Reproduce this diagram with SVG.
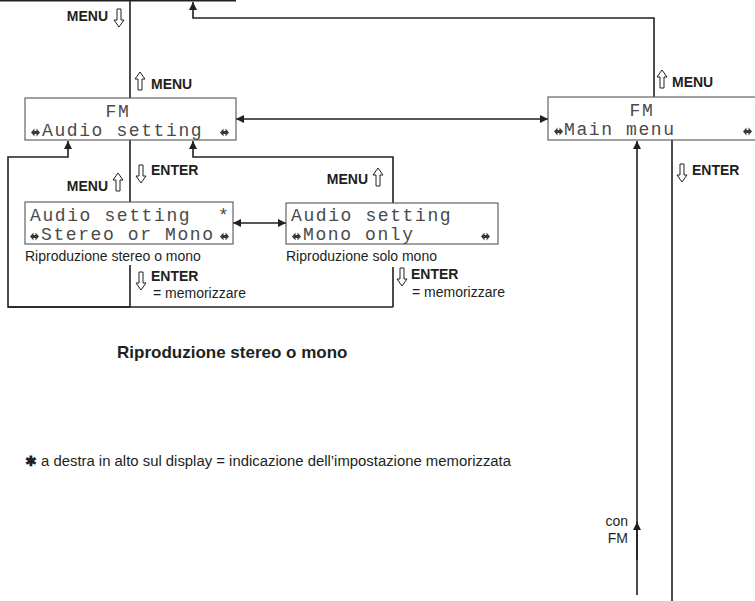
<svg xmlns="http://www.w3.org/2000/svg" width="755" height="601" viewBox="0 0 755 601">
<style>
.ln{fill:none;stroke:#231f20;stroke-width:1.6}
.box{fill:#fff;stroke:#555;stroke-width:1.1}
.lcd{font-family:"Liberation Mono","DejaVu Sans Mono",monospace;font-size:18px;letter-spacing:1.6px;fill:#4a4a4a}
.lbl{font-family:"Liberation Sans",Arial,sans-serif;font-size:14px;font-weight:bold;fill:#231f20}
.cap{font-family:"Liberation Sans",Arial,sans-serif;font-size:14px;fill:#231f20}
.ttl{font-family:"Liberation Sans",Arial,sans-serif;font-size:17px;font-weight:bold;fill:#231f20}
.ho{fill:#fff;stroke:#231f20;stroke-width:1}
.ic{fill:#3a3a3a}
</style>
<defs>
<marker id="ah" viewBox="0 0 10 10" refX="10" refY="5" markerWidth="8" markerHeight="9" markerUnits="userSpaceOnUse" orient="auto-start-reverse">
<path d="M0,0 L10,5 L0,10 Z" fill="#231f20"/>
</marker>
<path id="dn" d="M3,0 H7 V11 H10 L5,18 L0,11 H3 Z"/>
<path id="up" d="M3,18 H7 V7 H10 L5,0 L0,7 H3 Z"/>
<path id="lr" d="M0,4.5 L3.5,0.5 V3 H5.5 V0.5 L9,4.5 L5.5,8.5 V6 H3.5 V8.5 Z"/>
</defs>

<g id="connectors">
<path class="ln" d="M0,0.8 H236"/>
<path class="ln" d="M130,0 V98"/>
<path class="ln" d="M654,97 V18 H193 V2" marker-end="url(#ah)"/>
<path class="ln" d="M236,119 H548" marker-start="url(#ah)" marker-end="url(#ah)"/>
<path class="ln" d="M130,140 V202"/>
<path class="ln" d="M130,265 V307"/>
<path class="ln" d="M393,267 V307"/>
<path class="ln" d="M8,307 H393"/>
<path class="ln" d="M130,307 H8 V157 H68 V141" marker-end="url(#ah)"/>
<path class="ln" d="M393,203 V157 H193 V141" marker-end="url(#ah)"/>
<path class="ln" d="M233,223 H286" marker-start="url(#ah)" marker-end="url(#ah)"/>
<path class="ln" d="M637,595 V141" marker-end="url(#ah)"/>
<path class="ln" d="M637,560 V522" marker-end="url(#ah)"/>
<path class="ln" d="M672,140 V601"/>
</g>

<g id="labels">
<text class="lbl" x="108" y="21" text-anchor="end">MENU</text>
<use href="#dn" class="ho" x="114" y="9"/>
<use href="#up" class="ho" x="135" y="72"/>
<text class="lbl" x="151" y="89">MENU</text>
<use href="#dn" class="ho" x="136" y="165"/>
<text class="lbl" x="151" y="175">ENTER</text>
<text class="lbl" x="108" y="191" text-anchor="end">MENU</text>
<use href="#up" class="ho" x="113" y="173"/>
<text class="lbl" x="368" y="184" text-anchor="end">MENU</text>
<use href="#up" class="ho" x="373" y="168"/>
<use href="#dn" class="ho" x="136" y="272"/>
<text class="lbl" x="151" y="281">ENTER</text>
<text class="cap" x="153" y="298">= memorizzare</text>
<use href="#dn" class="ho" x="397" y="268"/>
<text class="lbl" x="411" y="279">ENTER</text>
<text class="cap" x="412" y="297">= memorizzare</text>
<use href="#up" class="ho" x="657" y="70"/>
<text class="lbl" x="672" y="87">MENU</text>
<use href="#dn" class="ho" x="677" y="164"/>
<text class="lbl" x="692" y="175">ENTER</text>
<text class="cap" x="628" y="526" text-anchor="end">con</text>
<text class="cap" x="628" y="543" text-anchor="end">FM</text>
</g>

<g id="node-audio-setting">
<rect class="box" x="25" y="98" width="211" height="42"/>
<text class="lcd" x="118" y="117" text-anchor="middle">FM</text>
<use href="#lr" class="ic" x="31" y="128"/>
<text class="lcd" x="42" y="136">Audio setting</text>
<use href="#lr" class="ic" x="220" y="128"/>
</g>

<g id="node-main-menu">
<rect class="box" x="548" y="97" width="220" height="43"/>
<text class="lcd" x="642" y="116" text-anchor="middle">FM</text>
<use href="#lr" class="ic" x="554" y="127"/>
<text class="lcd" x="564" y="135">Main menu</text>
<use href="#lr" class="ic" x="743" y="127"/>
</g>

<g id="node-stereo-mono">
<rect class="box" x="25" y="202" width="208" height="42"/>
<text class="lcd" x="30" y="221">Audio setting</text>
<text class="lcd" x="218" y="221">*</text>
<use href="#lr" class="ic" x="30" y="232"/>
<text class="lcd" x="41" y="240">Stereo or Mono</text>
<use href="#lr" class="ic" x="220" y="232"/>
<text class="cap" x="25" y="261" font-size="13.5">Riproduzione stereo o mono</text>
</g>

<g id="node-mono-only">
<rect class="box" x="286" y="203" width="212" height="41"/>
<text class="lcd" x="291" y="221">Audio setting</text>
<use href="#lr" class="ic" x="292" y="232"/>
<text class="lcd" x="303" y="240">Mono only</text>
<use href="#lr" class="ic" x="481" y="232"/>
<text class="cap" x="286" y="261">Riproduzione solo mono</text>
</g>

<g id="notes">
<text class="ttl" x="117" y="358">Riproduzione stereo o mono</text>
<text class="cap" x="25" y="466" font-weight="bold" font-size="15">✱</text>
<text class="cap" x="41" y="466" font-size="15" textLength="470" lengthAdjust="spacingAndGlyphs">a destra in alto sul display = indicazione dell’impostazione memorizzata</text>
</g>
</svg>
